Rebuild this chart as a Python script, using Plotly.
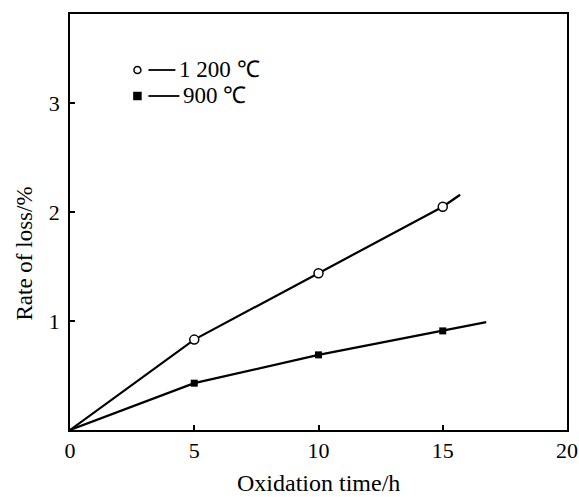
import plotly.graph_objects as go

# Data
time_h = [5, 10, 15]
loss_1200 = [0.83, 1.44, 2.05]
loss_900 = [0.43, 0.69, 0.91]
# Fitted lines (start at origin, extend beyond last point)
line_x_1200 = [0, 5, 10, 15, 15.7]
line_y_1200 = [0, 0.83, 1.44, 2.05, 2.16]
line_x_900 = [0, 5, 10, 15, 16.75]
line_y_900 = [0, 0.43, 0.69, 0.91, 0.99]
x_ticks = [0, 5, 10, 15, 20]
y_ticks = [1, 2, 3]
labels = ["1 200 \u2103", "900 \u2103"]
x_title = "Oxidation time/h"
y_title = "Rate of loss/%"

FONT = "Liberation Serif"

fig = go.Figure()
fig.add_trace(go.Scatter(x=line_x_1200, y=line_y_1200, mode="lines",
                         line=dict(color="black", width=2.2), showlegend=False))
fig.add_trace(go.Scatter(x=line_x_900, y=line_y_900, mode="lines",
                         line=dict(color="black", width=2.2), showlegend=False))
fig.add_trace(go.Scatter(x=time_h, y=loss_1200, mode="markers",
                         marker=dict(symbol="circle", size=9, color="white",
                                     line=dict(color="black", width=1.5)),
                         showlegend=False))
fig.add_trace(go.Scatter(x=time_h, y=loss_900, mode="markers",
                         marker=dict(symbol="square", size=7, color="black"),
                         showlegend=False))

L, R, T, B = 69.5, 12, 14, 67
W, H = 579, 497
pw, ph = W - L - R, H - T - B

def px_to_paper(px, py):
    return (px - L) / pw, (H - B - py) / ph

# Legend drawn manually
shapes = []
annotations = []
for i, (lab, py, lend) in enumerate(zip(labels, [70, 96], [175, 179])):
    cx, cy = px_to_paper(137, py)
    dx, dy = 3.5 / pw, 3.5 / ph
    shapes.append(dict(type="circle" if i == 0 else "rect", xref="paper", yref="paper",
                       x0=cx - dx, x1=cx + dx, y0=cy - dy, y1=cy + dy,
                       line=dict(color="black", width=1.5),
                       fillcolor="white" if i == 0 else "black"))
    lx0, _ = px_to_paper(148, py)
    lx1, _ = px_to_paper(lend, py)
    shapes.append(dict(type="line", xref="paper", yref="paper",
                       x0=lx0, x1=lx1, y0=cy, y1=cy, line=dict(color="black", width=1.8)))
    tx, _ = px_to_paper(lend + 2, py)
    annotations.append(dict(text=lab, xref="paper", yref="paper", x=tx, y=cy,
                            xanchor="left", yanchor="middle", showarrow=False,
                            font=dict(family=FONT, size=23, color="black")))

# Axis titles
ax, ay = px_to_paper(318, 483)
annotations.append(dict(text=x_title, xref="paper", yref="paper", x=ax, y=ay,
                        xanchor="center", yanchor="middle", showarrow=False,
                        font=dict(family=FONT, size=24, color="black")))
bx, by = px_to_paper(24, 254)
annotations.append(dict(text=y_title, xref="paper", yref="paper", x=bx, y=by,
                        xanchor="center", yanchor="middle", showarrow=False, textangle=-90,
                        font=dict(family=FONT, size=23, color="black")))

fig.update_layout(
    width=W, height=H,
    margin=dict(l=L, r=R, t=T, b=B),
    paper_bgcolor="white", plot_bgcolor="white",
    font=dict(family=FONT, color="black"),
    shapes=shapes, annotations=annotations,
)
fig.update_xaxes(range=[0, 20], tickvals=x_ticks, ticks="inside", ticklen=5,
                 tickcolor="black", tickwidth=1.5, showgrid=False, zeroline=False,
                 showline=True, linecolor="black", linewidth=1.8, mirror=True,
                 ticklabeloverflow="allow", ticklabelstandoff=0, automargin=False,
                 tickfont=dict(family=FONT, size=22))
fig.update_yaxes(range=[0, 3.82], tickvals=y_ticks, ticks="inside", ticklen=5,
                 tickcolor="black", tickwidth=1.5, showgrid=False, zeroline=False,
                 showline=True, linecolor="black", linewidth=1.8, mirror=True,
                 ticklabelstandoff=4, automargin=False,
                 tickfont=dict(family=FONT, size=22))

fig.write_html("out.html")
